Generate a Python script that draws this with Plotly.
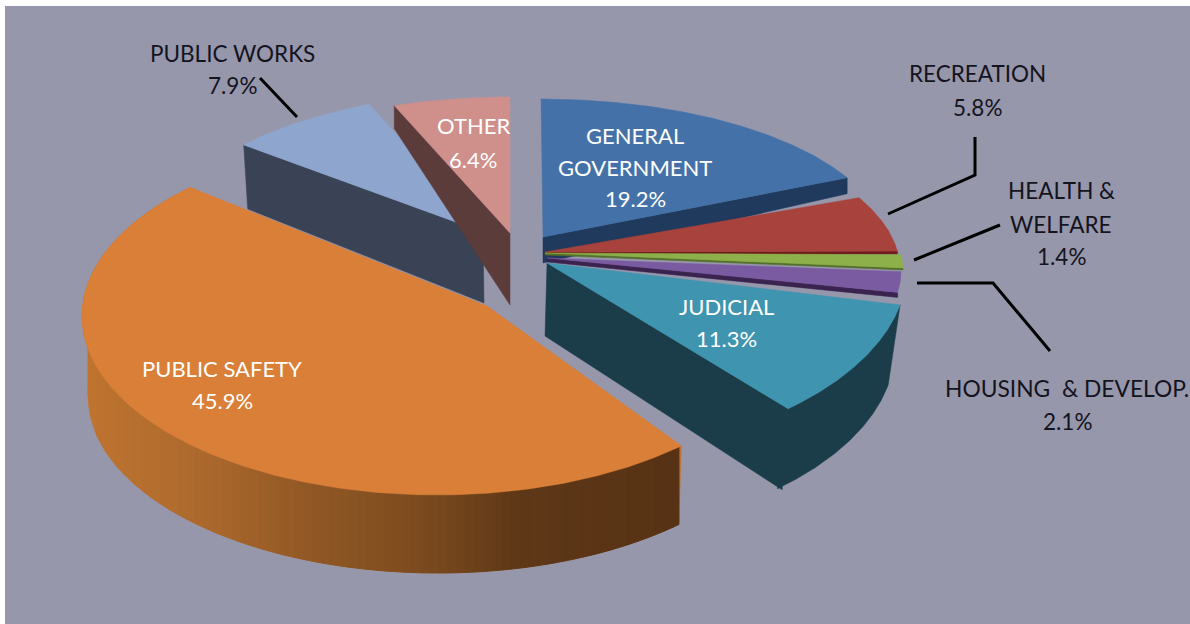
import numpy as np
import plotly.graph_objects as go

# Budget shares, clockwise from twelve o'clock
categories = ["GENERAL GOVERNMENT", "RECREATION", "HEALTH & WELFARE", "HOUSING & DEVELOP.",
              "JUDICIAL", "PUBLIC SAFETY", "PUBLIC WORKS", "OTHER"]
shares = [19.2, 5.8, 1.4, 2.1, 11.3, 45.9, 7.9, 6.4]

# Face and wall colours per slice
face_colors = ["#4472A8", "#A8423C", "#8DB04A", "#7A5AA0", "#3F94B0", "#D97F38", "#8EA6CE", "#CF8F8B"]
wall_colors = ["#1F3A5C", "#6E1D1D", "#55702A", "#3B2350", "#1B3D4A", "#6B4020", "#3A4255", "#5C3C3A"]

# Projected ellipse of each slice: tip, ellipse centre, radii, start angle, sweep stretch
tips = [(543, 237), (545, 252), (545, 253), (547, 258), (547, 263), (487, 306), (483, 232), (510, 233)]
centres = [(541, 245), (545, 270), (545, 270), (545, 272), (545, 268), (437, 316), (505, 250), (510, 245)]
radii = [(345, 146), (355, 155), (358, 148), (356, 148), (362, 190), (355, 179), (350, 158), (345, 148)]
start_angles = [0, 62, 83.8, 89.6, 101.2, 136.5, 311.7, 340.4]
stretches = [0.905, 1.006, 1.07, 1.1, 0.9, 1.086, 0.897, 0.85]

# Which cut edge shows a wall, and how far its rim and tip ends drop
cut_edges = ["end", "end", "end", "end", "end", None, "start", "start"]
rim_drops = [(0, 16), (0, 3), (0, 2), (0, 5), (-6, 81), (0, 0), (4, 64), (0, 23)]
tip_drops = [(0, 26), (0, 3), (0, 2), (0, 4), (-2, 73), (0, 0), (1, 71), (0, 72)]

# Lower rim ellipses for slices whose curved wall faces the viewer
lower_rims = {4: ((537, 348), (358, 190)), 5: ((438, 396), (350, 177))}

# Shading along the big slice's curved wall, as x position and colour
shade_x = [90, 200, 300, 430, 520, 680]
shade_rgb = [(191, 116, 48), (173, 106, 46), (148, 90, 38), (122, 74, 30), (94, 56, 23), (87, 50, 20)]
SHADE_STEP = 9

draw_order = [0, 1, 2, 3, 4, 6, 7, 5]

BACKGROUND = "#9797AC"
LABEL_FONT = "Lato"
INNER_SIZE = 22
OUTER_SIZE = 22.5

# Leader lines between outside labels and their slices
leaders = [
    ([260, 297], [78, 117]),
    ([888, 975, 975], [214, 175, 137]),
    ([914, 1000], [260, 225]),
    ([917, 993, 1050], [283, 283, 351]),
]

# Text lines: wording, centre position, colour, size
pct = [f"{s}%" for s in shares]
DARK = "#14141E"
LIGHT = "#FFFFFF"
text_lines = [
    ("PUBLIC WORKS", 232, 53, DARK, OUTER_SIZE), (pct[6], 232, 85, DARK, OUTER_SIZE),
    ("RECREATION", 977, 73, DARK, OUTER_SIZE), (pct[1], 977, 107, DARK, OUTER_SIZE),
    ("HEALTH &", 1061, 190, DARK, OUTER_SIZE), ("WELFARE", 1061, 224, DARK, OUTER_SIZE), (pct[2], 1061, 256, DARK, OUTER_SIZE),
    ("HOUSING  & DEVELOP.", 1067, 388, DARK, 22.8), (pct[3], 1067, 421, DARK, OUTER_SIZE),
    ("OTHER", 473, 125, LIGHT, INNER_SIZE), (pct[7], 473, 159, LIGHT, INNER_SIZE),
    ("GENERAL", 635, 135, LIGHT, INNER_SIZE), ("GOVERNMENT", 635, 167, LIGHT, INNER_SIZE), (pct[0], 635, 198, LIGHT, INNER_SIZE),
    ("JUDICIAL", 726, 306, LIGHT, INNER_SIZE), (pct[4], 726, 338, LIGHT, INNER_SIZE),
    ("PUBLIC SAFETY", 222, 368, LIGHT, INNER_SIZE), (pct[5], 222, 400, LIGHT, INNER_SIZE),
]


def arc(centre, radius, a0, a1, n=60):
    t = np.radians(np.linspace(a0, a1, n))
    return centre[0] + radius[0] * np.sin(t), centre[1] - radius[1] * np.cos(t)


def polygon(fig, xs, ys, color, width=0.5):
    xs, ys = list(xs), list(ys)
    fig.add_trace(go.Scatter(
        x=xs + xs[:1], y=ys + ys[:1], mode="lines", fill="toself", fillcolor=color,
        line=dict(color=color, width=width), hoverinfo="skip", showlegend=False,
    ))


def shade_at(x):
    return "rgb(%d,%d,%d)" % tuple(np.interp(x, shade_x, [c[i] for c in shade_rgb]) for i in range(3))


def shaded_wall(fig, xa, ya, xb, yb):
    # Silhouette first, then upright colour bands across the front of the wall
    polygon(fig, list(xa) + list(xb[::-1]), list(ya) + list(yb[::-1]), shade_at(shade_x[0]))
    top = xa.argmin()
    low = xb.argmin()
    xt, yt = xa[:top + 1][::-1], ya[:top + 1][::-1]
    xl, yl = xb[:low + 1][::-1], yb[:low + 1][::-1]
    left, right = xl[0], xl[-1]
    edges = np.arange(left, right + SHADE_STEP, SHADE_STEP).clip(max=right)
    for x0, x1 in zip(edges[:-1], edges[1:]):
        band = [x0, x1, x1, x0]
        heights = [np.interp(x0, xt, yt), np.interp(x1, xt, yt), np.interp(x1, xl, yl), np.interp(x0, xl, yl)]
        polygon(fig, band, heights, shade_at((x0 + x1) / 2), width=1)


fig = go.Figure()

for i in draw_order:
    a0 = start_angles[i]
    a1 = a0 + shares[i] * 3.6 * stretches[i]
    xa, ya = arc(centres[i], radii[i], a0, a1, n=240)
    tip = tips[i]

    # Curved outer wall
    if i in lower_rims:
        lower_c, lower_r = lower_rims[i]
        xb, yb = arc(lower_c, lower_r, a0, a1, n=240)
        if i == 5:
            shaded_wall(fig, xa, ya, xb, yb)
        else:
            polygon(fig, list(xa) + list(xb[::-1]), list(ya) + list(yb[::-1]), wall_colors[i])

    # Flat wall along the visible cut edge
    if cut_edges[i]:
        k = -1 if cut_edges[i] == "end" else 0
        rx, ry = xa[k], ya[k]
        polygon(fig,
                [tip[0], rx, rx + rim_drops[i][0], tip[0] + tip_drops[i][0]],
                [tip[1], ry, ry + rim_drops[i][1], tip[1] + tip_drops[i][1]],
                wall_colors[i])

    # Top face
    polygon(fig, [tip[0]] + list(xa), [tip[1]] + list(ya), face_colors[i])

for lx, ly in leaders:
    fig.add_trace(go.Scatter(x=lx, y=ly, mode="lines", line=dict(color="#000000", width=3),
                             hoverinfo="skip", showlegend=False))

for text, x, y, color, size in text_lines:
    fig.add_annotation(x=x, y=y, text=text, showarrow=False, xanchor="center", yanchor="middle",
                       font=dict(family=LABEL_FONT, size=size, color=color))

fig.update_layout(
    width=1190, height=624, margin=dict(l=0, r=0, t=0, b=0),
    paper_bgcolor="#FFFFFF", plot_bgcolor="#FFFFFF", showlegend=False,
    xaxis=dict(range=[0, 1190], visible=False, fixedrange=True),
    yaxis=dict(range=[624, 0], visible=False, fixedrange=True),
    shapes=[dict(type="rect", xref="x", yref="y", x0=5, y0=6, x1=1190, y1=624,
                 fillcolor=BACKGROUND, line=dict(width=0), layer="below")],
)

fig.write_html("out.html", config=dict(displayModeBar=False))
